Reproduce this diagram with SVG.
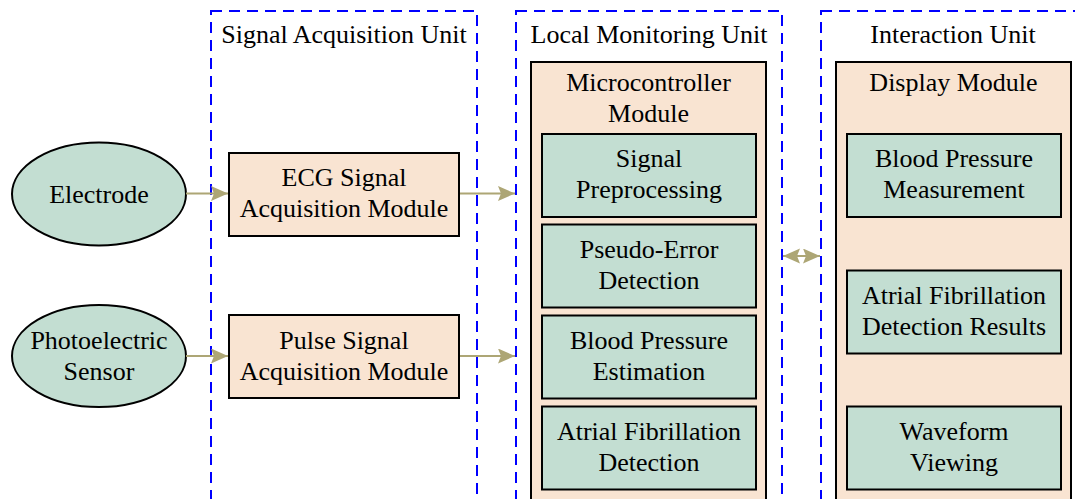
<svg xmlns="http://www.w3.org/2000/svg" width="1075" height="499" viewBox="0 0 1075 499">
<style>
text{font-family:"Liberation Serif","Times New Roman",serif;font-size:26px;fill:#000;text-anchor:middle}
.unit{fill:none;stroke:#0000FF;stroke-width:2;stroke-dasharray:11,7}
.beige{fill:#F9E4D2;stroke:#000;stroke-width:2}
.green{fill:#C3DED2;stroke:#000;stroke-width:2}
.conn{stroke:#ADA675;stroke-width:2;fill:none}
</style>
<defs>
<marker id="ah" markerUnits="userSpaceOnUse" markerWidth="18" markerHeight="16" refX="17" refY="7.5" orient="auto-start-reverse" viewBox="0 0 18 16">
<path d="M0,0 L17,7.5 L0,15 L3,7.5 z" fill="#ADA675"/>
</marker>
</defs>
<g id="unit-acq">
<rect class="unit" x="211" y="11" width="266" height="510"/>
<text x="344" y="43">Signal Acquisition Unit</text>
</g>
<g id="unit-local">
<rect class="unit" x="516" y="11" width="266" height="510"/>
<text x="649" y="43">Local Monitoring Unit</text>
</g>
<g id="unit-inter">
<rect class="unit" x="821" y="11" width="266" height="510"/>
<text x="953" y="43">Interaction Unit</text>
</g>
<g id="electrode">
<ellipse class="green" cx="99" cy="194" rx="87" ry="51.5"/>
<text x="99" y="203">Electrode</text>
</g>
<g id="photo">
<ellipse class="green" cx="99" cy="356" rx="87" ry="51"/>
<text x="99" y="349">Photoelectric</text>
<text x="99" y="380">Sensor</text>
</g>
<g id="ecg">
<rect class="beige" x="229" y="153" width="230" height="83"/>
<text x="344" y="186">ECG Signal</text>
<text x="344" y="217">Acquisition Module</text>
</g>
<g id="pulse">
<rect class="beige" x="229" y="315" width="230" height="83"/>
<text x="344" y="349">Pulse Signal</text>
<text x="344" y="380">Acquisition Module</text>
</g>
<g id="micro">
<rect class="beige" x="531" y="62" width="235" height="460"/>
<text x="648.5" y="91">Microcontroller</text>
<text x="648.5" y="122">Module</text>
</g>
<g id="preproc">
<rect class="green" x="542" y="134" width="214" height="83"/>
<text x="649" y="167">Signal</text>
<text x="649" y="198">Preprocessing</text>
</g>
<g id="pseudo">
<rect class="green" x="542" y="224.5" width="214" height="83"/>
<text x="649" y="257.5">Pseudo-Error</text>
<text x="649" y="288.5">Detection</text>
</g>
<g id="bpest">
<rect class="green" x="542" y="315.5" width="214" height="83"/>
<text x="649" y="348.5">Blood Pressure</text>
<text x="649" y="379.5">Estimation</text>
</g>
<g id="afdet">
<rect class="green" x="542" y="406.5" width="214" height="83"/>
<text x="649" y="439.5">Atrial Fibrillation</text>
<text x="649" y="470.5">Detection</text>
</g>
<g id="display">
<rect class="beige" x="836" y="62" width="235" height="460"/>
<text x="953.5" y="91">Display Module</text>
</g>
<g id="bpmeas">
<rect class="green" x="847" y="134" width="214" height="83"/>
<text x="954" y="167">Blood Pressure</text>
<text x="954" y="198">Measurement</text>
</g>
<g id="afres">
<rect class="green" x="847" y="270.5" width="214" height="83"/>
<text x="954" y="303.5">Atrial Fibrillation</text>
<text x="954" y="334.5">Detection Results</text>
</g>
<g id="wave">
<rect class="green" x="847" y="406.5" width="214" height="83"/>
<text x="954" y="439.5">Waveform</text>
<text x="954" y="470.5">Viewing</text>
</g>
<g id="connectors">
<line class="conn" x1="186" y1="193.5" x2="228" y2="193.5" marker-end="url(#ah)"/>
<line class="conn" x1="460" y1="193.5" x2="515" y2="193.5" marker-end="url(#ah)"/>
<line class="conn" x1="186" y1="356" x2="228" y2="356" marker-end="url(#ah)"/>
<line class="conn" x1="460" y1="356" x2="515" y2="356" marker-end="url(#ah)"/>
<line class="conn" x1="783" y1="256" x2="820" y2="256" marker-start="url(#ah)" marker-end="url(#ah)"/>
</g>
</svg>
